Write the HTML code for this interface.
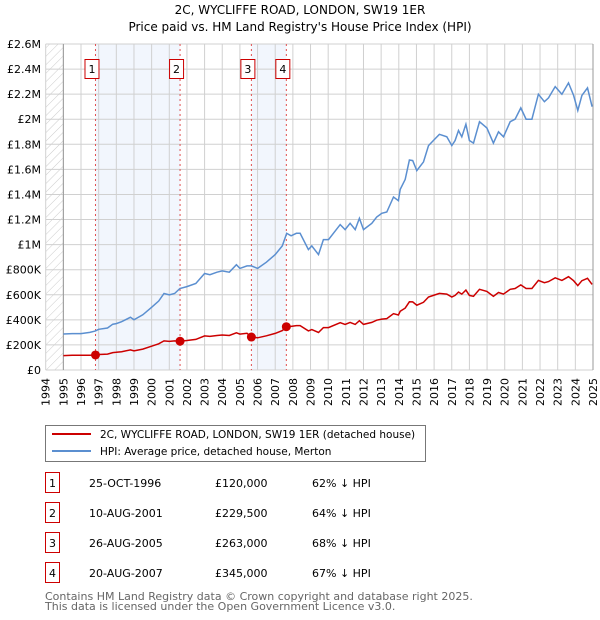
<!DOCTYPE html>
<html><head><meta charset="utf-8"><style>
body{margin:0;background:#fff;font-family:"Liberation Sans","DejaVu Sans",sans-serif;}
svg{display:block}
</style></head><body>
<svg width="600" height="620" xmlns="http://www.w3.org/2000/svg" font-family="DejaVu Sans, Liberation Sans, sans-serif">
<defs><pattern id="hatch" width="6" height="6" patternUnits="userSpaceOnUse" patternTransform="rotate(45)"><line x1="0" y1="0" x2="0" y2="6" stroke="#ccc" stroke-width="1"/></pattern></defs>
<text x="300" y="14" text-anchor="middle" font-size="12">2C, WYCLIFFE ROAD, LONDON, SW19 1ER</text>
<text x="300" y="31" text-anchor="middle" font-size="12">Price paid vs. HM Land Registry's House Price Index (HPI)</text>
<g id="plot"></g>
<g>
<rect x="45.5" y="425.5" width="380" height="36" fill="#fff" stroke="#777"/>
<line x1="52" y1="434" x2="91" y2="434" stroke="#cc0000" stroke-width="2"/>
<text x="100" y="438" font-size="10.5">2C, WYCLIFFE ROAD, LONDON, SW19 1ER (detached house)</text>
<line x1="52" y1="451" x2="91" y2="451" stroke="#5b8fd0" stroke-width="2"/>
<text x="100" y="455" font-size="10.5">HPI: Average price, detached house, Merton</text>
</g>
<g id="table" font-size="11"></g>
<text x="45" y="600" font-size="11" fill="#666">Contains HM Land Registry data © Crown copyright and database right 2025.</text>
<text x="45" y="610" font-size="11" fill="#666">This data is licensed under the Open Government Licence v3.0.</text>
</svg>
<script>
const years=[1995.0,1995.5,1996.0,1996.5,1996.8,1997.0,1997.5,1997.8,1998.0,1998.3,1998.8,1999.0,1999.5,2000.0,2000.4,2000.7,2001.0,2001.3,2001.6,2002.0,2002.5,2003.0,2003.3,2003.7,2004.0,2004.4,2004.8,2005.0,2005.4,2005.65,2006.0,2006.5,2007.0,2007.4,2007.65,2007.9,2008.2,2008.41,2008.88,2009.07,2009.45,2009.73,2010.02,2010.68,2010.96,2011.24,2011.53,2011.77,2012.0,2012.47,2012.75,2013.04,2013.32,2013.7,2013.98,2014.08,2014.36,2014.6,2014.79,2015.02,2015.4,2015.68,2015.96,2016.3,2016.72,2017.0,2017.19,2017.38,2017.57,2017.8,2018.0,2018.23,2018.57,2018.99,2019.36,2019.65,2019.93,2020.31,2020.59,2020.91,2021.21,2021.54,2021.91,2022.25,2022.48,2022.86,2023.24,2023.61,2023.9,2024.14,2024.37,2024.69,2024.95];
const hpiValues=[0.287,0.29,0.29,0.30,0.31,0.325,0.335,0.365,0.37,0.385,0.42,0.40,0.44,0.50,0.55,0.61,0.60,0.61,0.65,0.665,0.69,0.77,0.76,0.78,0.79,0.78,0.84,0.81,0.83,0.83,0.81,0.86,0.92,0.99,1.09,1.07,1.09,1.09,0.96,0.99,0.92,1.04,1.04,1.16,1.12,1.17,1.12,1.21,1.12,1.17,1.22,1.25,1.26,1.38,1.35,1.44,1.52,1.675,1.67,1.59,1.66,1.79,1.83,1.88,1.86,1.79,1.83,1.91,1.86,1.96,1.83,1.81,1.98,1.93,1.81,1.90,1.86,1.98,2.0,2.09,2.0,2.0,2.2,2.14,2.17,2.26,2.2,2.29,2.19,2.07,2.19,2.25,2.1];
const priceValues=[0.115,0.118,0.118,0.118,0.12,0.124,0.127,0.139,0.141,0.146,0.16,0.152,0.167,0.19,0.209,0.232,0.228,0.232,0.2295,0.235,0.244,0.272,0.268,0.275,0.279,0.275,0.297,0.286,0.293,0.263,0.257,0.273,0.292,0.314,0.345,0.348,0.354,0.354,0.312,0.322,0.299,0.338,0.338,0.377,0.364,0.38,0.364,0.393,0.364,0.38,0.397,0.406,0.41,0.449,0.439,0.468,0.494,0.544,0.543,0.517,0.54,0.582,0.595,0.611,0.605,0.582,0.595,0.621,0.605,0.637,0.595,0.588,0.644,0.627,0.588,0.618,0.605,0.644,0.65,0.679,0.65,0.65,0.715,0.696,0.705,0.735,0.715,0.744,0.712,0.673,0.712,0.731,0.683];
const saleYears=[1996.82,2001.61,2005.65,2007.63];
const salePrices=[0.12,0.2295,0.263,0.345];
const saleDates=["25-OCT-1996","10-AUG-2001","26-AUG-2005","20-AUG-2007"];
const saleLabels=["£120,000","£229,500","£263,000","£345,000"];
const saleDiffs=["62% ↓ HPI","64% ↓ HPI","68% ↓ HPI","67% ↓ HPI"];
const yTicks=[0,0.2,0.4,0.6,0.8,1.0,1.2,1.4,1.6,1.8,2.0,2.2,2.4,2.6];
const yTickLabels=["£0","£200K","£400K","£600K","£800K","£1M","£1.2M","£1.4M","£1.6M","£1.8M","£2M","£2.2M","£2.4M","£2.6M"];
const xTicks=[];for(let y=1994;y<=2025;y++)xTicks.push(y);

const NS="http://www.w3.org/2000/svg";
const X0=45.7,X1=593,Y0=370,Y1=44;
const xs=y=>X0+(y-1994)*(X1-X0)/31;
const ys=v=>Y0-(v/2.6)*(Y0-Y1);
const plot=document.getElementById('plot');
function mk(tag,attrs,parent){const e=document.createElementNS(NS,tag);for(const k in attrs)e.setAttribute(k,attrs[k]);(parent||plot).appendChild(e);return e;}

for(let i=0;i<saleYears.length;i+=2){
  const b=mk('rect',{x:xs(saleYears[i]),y:Y1,width:xs(saleYears[i+1])-xs(saleYears[i]),height:Y0-Y1,fill:'#f2f6fd'});
  
  
}
const h=mk('rect',{x:X0,y:Y1,width:xs(1995)-X0,height:Y0-Y1,fill:'url(#hatch)'});


xTicks.forEach(t=>{const l=mk('line',{x1:xs(t),x2:xs(t),y1:Y1,y2:Y0,stroke:'#d0d0d0','stroke-width':1});
  
  
  const tx=mk('text',{transform:`translate(${xs(t)+4},${Y0+8}) rotate(-90)`,'text-anchor':'end','font-size':11});
  tx.textContent=t;
  
  
});
yTicks.forEach((t,i)=>{const l=mk('line',{x1:X0,x2:X1,y1:ys(t),y2:ys(t),stroke:'#d0d0d0','stroke-width':1});
  
  
  const tx=mk('text',{x:41,y:ys(t)+4,'text-anchor':'end','font-size':11});
  tx.textContent=yTickLabels[i];
  
  
});
const ax=mk('line',{x1:xs(1995),x2:xs(1995),y1:Y1,y2:Y0,stroke:'#999','stroke-width':1});


const ax2=mk('line',{x1:X1,x2:X1,y1:Y1,y2:Y0,stroke:'#999','stroke-width':1});


saleYears.forEach((s,i)=>{
  const l=mk('line',{x1:xs(s),x2:xs(s),y1:Y1,y2:Y0,stroke:'#e05050','stroke-width':1,'stroke-dasharray':'2,3'});
  
  
  const r=mk('rect',{x:xs(s)-10.5,y:59.5,width:14,height:19,fill:'#fff',stroke:'#cc0000'});
  
  
  const t=mk('text',{x:xs(s)-3.5,y:73,'text-anchor':'middle','font-size':11});
  t.textContent=i+1;
  
  
});
function pts(vals){return years.map((y,i)=>xs(y).toFixed(1)+','+ys(vals[i]).toFixed(1)).join(' ');}
const hl=mk('polyline',{points:pts(hpiValues),fill:'none',stroke:'#5b8fd0','stroke-width':1.5});


const pl=mk('polyline',{points:pts(priceValues),fill:'none',stroke:'#cc0000','stroke-width':1.5});


saleYears.forEach((s,i)=>{
  const c=mk('circle',{cx:xs(s),cy:ys(salePrices[i]),r:4.5,fill:'#cc0000'});
  
  
});
const tb=document.getElementById('table');
saleDates.forEach((d,i)=>{
  const cy=483+i*30;
  const r=mk('rect',{x:45.5,y:cy-10.5,width:14,height:20,fill:'#fff',stroke:'#cc0000'},tb);
  
  
  const n=mk('text',{x:52.5,y:cy+4,'text-anchor':'middle'},tb);n.textContent=i+1;
  
  
  const a=mk('text',{x:89,y:cy+4},tb);a.textContent=d;
  
  
  const b=mk('text',{x:215,y:cy+4},tb);b.textContent=saleLabels[i];
  
  
  const c=mk('text',{x:312,y:cy+4},tb);c.textContent=saleDiffs[i];
  
  
});
</script>
</body></html>
